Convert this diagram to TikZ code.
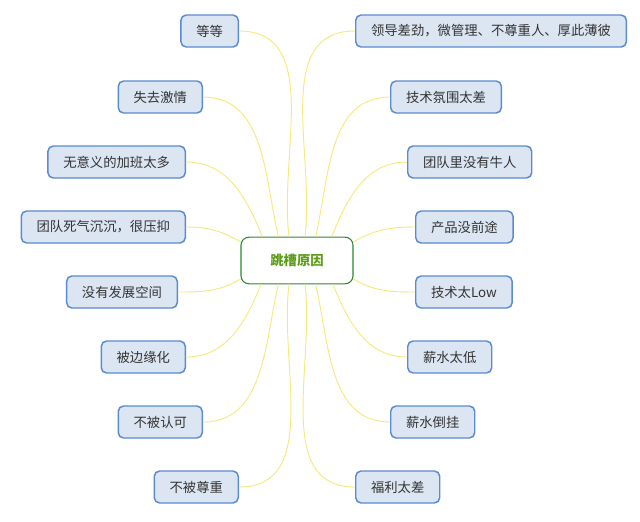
\documentclass[tikz,border=0pt]{standalone}
\usepackage{fontspec}
\newfontfamily\cjk{Noto Sans CJK SC}
\usepackage{tikz}
\usetikzlibrary{positioning}
\definecolor{leafblue}{HTML}{DCE6F3}
\definecolor{leafedge}{HTML}{5A8AD0}
\definecolor{rootedge}{HTML}{2A8A2A}
\definecolor{roottext}{HTML}{5E9C1C}
\definecolor{linkyellow}{HTML}{F6E97C}
\definecolor{ink}{HTML}{333333}

\begin{document}
\begin{tikzpicture}[
  x=0.75pt, y=0.75pt,
  root/.style={draw=rootedge, line width=0.8pt, rounded corners=6pt, fill=white,
    minimum width=84pt, minimum height=35pt, align=center,
    font=\cjk\fontsize{10}{12}\selectfont\bfseries, text=roottext},
  leaf/.style={draw=leafedge, line width=1.1pt, rounded corners=4pt, fill=leafblue,
    minimum height=24pt, inner xsep=11.5pt, align=center,
    font=\cjk\fontsize{10}{12}\selectfont, text=ink},
  link/.style={linkyellow, line width=0.7pt}
]
\useasboundingbox (0,0) rectangle (640,-522);

\node[root] (cause) at (297,-260.5) {跳槽原因};

% left side
\node[leaf, anchor=east] (misc)     at (239,-31)  {等等};
\node[leaf, anchor=east] (passion)  at (203,-97)  {失去激情};
\node[leaf, anchor=east] (overtime) at (186,-162) {无意义的加班太多};
\node[leaf, anchor=east] (morale)   at (186,-227) {团队死气沉沉，很压抑};
\node[leaf, anchor=east] (growth)   at (178,-292) {没有发展空间};
\node[leaf, anchor=east] (margin)   at (186,-357) {被边缘化};
\node[leaf, anchor=east] (recog)    at (203,-422) {不被认可};
\node[leaf, anchor=east] (respect)  at (239,-487) {不被尊重};

% right side
\node[leaf, anchor=west] (boss)     at (355,-31)  {领导差劲，微管理、不尊重人、厚此薄彼};
\node[leaf, anchor=west] (techenv)  at (390,-97)  {技术氛围太差};
\node[leaf, anchor=west] (talent)   at (407,-162) {团队里没有牛人};
\node[leaf, anchor=west] (product)  at (415,-227) {产品没前途};
\node[leaf, anchor=west] (techlow)  at (415,-292) {技术太Low};
\node[leaf, anchor=west] (paylow)   at (407,-357) {薪水太低};
\node[leaf, anchor=west] (payinv)   at (390,-422) {薪水倒挂};
\node[leaf, anchor=west] (welfare)  at (355,-487) {福利太差};

% connectors
\draw[link] (misc.east)     to[out=0,in=97]  ([xshift=-6]cause.north);
\draw[link] (passion.east)  to[out=0,in=103] ([xshift=-14]cause.north);
\draw[link] (overtime.east) to[out=0,in=112] ([xshift=-26]cause.north);
\draw[link] (morale.east)   to[out=0,in=150] ([yshift=14]cause.west);
\draw[link] (growth.east)   to[out=0,in=210] ([yshift=-14]cause.west);
\draw[link] (margin.east)   to[out=0,in=-112] ([xshift=-27]cause.south);
\draw[link] (recog.east)    to[out=0,in=-103] ([xshift=-14]cause.south);
\draw[link] (respect.east)  to[out=0,in=-97] ([xshift=-6]cause.south);

\draw[link] (boss.west)     to[out=180,in=83]  ([xshift=6]cause.north);
\draw[link] (techenv.west)  to[out=180,in=77]  ([xshift=14]cause.north);
\draw[link] (talent.west)   to[out=180,in=68]  ([xshift=26]cause.north);
\draw[link] (product.west)  to[out=180,in=30]  ([yshift=14]cause.east);
\draw[link] (techlow.west)  to[out=180,in=-30] ([yshift=-14]cause.east);
\draw[link] (paylow.west)   to[out=180,in=-68] ([xshift=27]cause.south);
\draw[link] (payinv.west)   to[out=180,in=-77] ([xshift=14]cause.south);
\draw[link] (welfare.west)  to[out=180,in=-83] ([xshift=6]cause.south);
\end{tikzpicture}
\end{document}
